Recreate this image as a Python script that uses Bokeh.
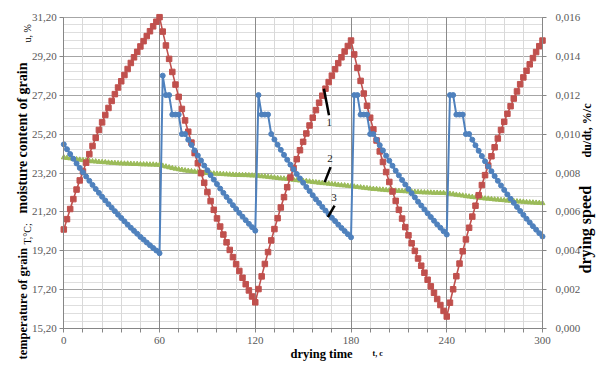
import math
from bokeh.plotting import figure
from bokeh.models import (Range1d, LinearAxis, FixedTicker, CustomJSTickFormatter,
                          Label, ColumnDataSource)
from bokeh.embed import file_html
from bokeh.resources import INLINE

# ---------------- data ----------------
time_s = list(range(0, 301, 2))

# curve 1: grain temperature T, degC (left axis)
temperature = [
    20.30, 20.83, 21.35, 21.86, 22.35, 22.82, 23.28, 23.73, 24.17, 24.59, 25.01,
    25.41, 25.80, 26.18, 26.54, 26.90, 27.25, 27.59, 27.91, 28.23, 28.54, 28.85,
    29.14, 29.42, 29.70, 29.97, 30.23, 30.48, 30.73, 30.97, 31.20,
    30.46, 29.75, 29.06, 28.39, 27.74, 27.11, 26.49, 25.90, 25.32, 24.76, 24.22,
    23.70, 23.19, 22.70, 22.22, 21.76, 21.31, 20.87, 20.45, 20.04, 19.64, 19.25,
    18.88, 18.52, 18.17, 17.82, 17.49, 17.17, 16.86, 16.56,
    17.24, 17.89, 18.53, 19.14, 19.74, 20.32, 20.88, 21.43, 21.96, 22.47, 22.97,
    23.45, 23.91, 24.37, 24.80, 25.23, 25.64, 26.04, 26.43, 26.81, 27.17, 27.53,
    27.87, 28.20, 28.53, 28.84, 29.14, 29.44, 29.72, 30.00,
    29.29, 28.60, 27.93, 27.28, 26.65, 26.04, 25.44, 24.87, 24.31, 23.77, 23.25,
    22.74, 22.25, 21.77, 21.31, 20.86, 20.42, 20.00, 19.59, 19.20, 18.81, 18.44,
    18.08, 17.72, 17.38, 17.05, 16.73, 16.42, 16.12, 15.83,
    16.54, 17.23, 17.90, 18.55, 19.18, 19.79, 20.39, 20.96, 21.52, 22.06, 22.58,
    23.09, 23.58, 24.06, 24.52, 24.97, 25.41, 25.83, 26.24, 26.63, 27.02, 27.39,
    27.76, 28.11, 28.45, 28.78, 29.10, 29.41, 29.71, 30.00,
]

# curve 2: moisture content of grain u, % (left axis)
moisture = [
    24.00, 23.97, 23.95, 23.92, 23.90, 23.88, 23.86, 23.84, 23.82, 23.80, 23.79,
    23.77, 23.76, 23.75, 23.73, 23.72, 23.71, 23.70, 23.69, 23.68, 23.68, 23.67,
    23.66, 23.66, 23.65, 23.64, 23.64, 23.63, 23.63, 23.62, 23.62,
    23.57, 23.53, 23.49, 23.45, 23.42, 23.39, 23.36, 23.33, 23.31, 23.29, 23.27,
    23.25, 23.23, 23.21, 23.20, 23.18, 23.17, 23.16, 23.15, 23.14, 23.13, 23.12,
    23.11, 23.10, 23.10, 23.09, 23.09, 23.08, 23.07, 23.07,
    23.05, 23.03, 23.02, 23.00, 22.98, 22.96, 22.94, 22.92, 22.91, 22.89, 22.87,
    22.85, 22.83, 22.81, 22.79, 22.78, 22.76, 22.74, 22.72, 22.70, 22.68, 22.67,
    22.65, 22.63, 22.61, 22.59, 22.57, 22.56, 22.54, 22.52,
    22.50, 22.48, 22.46, 22.44, 22.42, 22.40, 22.38, 22.37, 22.35, 22.34, 22.32,
    22.31, 22.30, 22.29, 22.28, 22.27, 22.26, 22.25, 22.24, 22.23, 22.22, 22.21,
    22.20, 22.20, 22.19, 22.18, 22.18, 22.17, 22.17, 22.16,
    22.13, 22.11, 22.08, 22.06, 22.04, 22.01, 21.99, 21.97, 21.95, 21.93, 21.91,
    21.89, 21.88, 21.86, 21.84, 21.83, 21.81, 21.80, 21.78, 21.77, 21.75, 21.74,
    21.73, 21.72, 21.70, 21.69, 21.68, 21.67, 21.66, 21.65,
]

# curve 3: drying speed du/dt, %/c (right axis)
drying_speed = [
    0.00947, 0.00922, 0.00897, 0.00873, 0.00849, 0.00826, 0.00804, 0.00782,
    0.00760, 0.00739, 0.00718, 0.00698, 0.00678, 0.00659, 0.00640, 0.00622,
    0.00604, 0.00586, 0.00569, 0.00552, 0.00535, 0.00519, 0.00503, 0.00488,
    0.00472, 0.00458, 0.00443, 0.00429, 0.00415, 0.00402, 0.00388,
    0.01300, 0.01200, 0.01200, 0.01100, 0.01100, 0.01100, 0.01000, 0.01000,
    0.00971, 0.00944, 0.00916, 0.00890, 0.00864, 0.00838, 0.00814, 0.00789,
    0.00766, 0.00743, 0.00720, 0.00698, 0.00677, 0.00656, 0.00635, 0.00615,
    0.00595, 0.00576, 0.00558, 0.00539, 0.00522, 0.00504,
    0.01200, 0.01100, 0.01100, 0.01100, 0.01000,
    0.00972, 0.00945, 0.00919, 0.00893, 0.00868, 0.00843, 0.00819, 0.00795,
    0.00772, 0.00750, 0.00728, 0.00707, 0.00686, 0.00665, 0.00646, 0.00626,
    0.00607, 0.00588, 0.00570, 0.00553, 0.00535, 0.00518, 0.00502, 0.00486,
    0.00470,
    0.01200, 0.01200, 0.01100, 0.01100, 0.01100, 0.01000, 0.01000,
    0.00971, 0.00943, 0.00916, 0.00889, 0.00863, 0.00837, 0.00812, 0.00788,
    0.00764, 0.00741, 0.00718, 0.00696, 0.00675, 0.00653, 0.00633, 0.00613,
    0.00593, 0.00574, 0.00555, 0.00536, 0.00519, 0.00501, 0.00484,
    0.01200, 0.01200, 0.01100, 0.01100, 0.01100, 0.01000, 0.01000,
    0.00971, 0.00942, 0.00914, 0.00887, 0.00860, 0.00834, 0.00809, 0.00784,
    0.00760, 0.00736, 0.00713, 0.00690, 0.00668, 0.00647, 0.00626, 0.00605,
    0.00585, 0.00565, 0.00546, 0.00527, 0.00509, 0.00491, 0.00474,
]

x_ticks = [0, 60, 120, 180, 240, 300]
left_ticks = [15.2, 17.2, 19.2, 21.2, 23.2, 25.2, 27.2, 29.2, 31.2]
right_ticks = [0.0, 0.002, 0.004, 0.006, 0.008, 0.010, 0.012, 0.014, 0.016]

assert len(time_s) == len(temperature) == len(moisture) == len(drying_speed)

src = ColumnDataSource(dict(t=time_s, T=temperature, u=moisture, v=drying_speed))

# ---------------- figure ----------------
# The frame covers the whole canvas; the axes are pinned (fixed_location) so that
# the titles, which live inside the frame, are not clipped.
W, H = 598, 367
PL, PR, PT, PB = 63.3, 542.0, 16.7, 328.3       # plot-area box in pixels
X0, X1 = 0.0, 300.0
Y0, Y1 = 15.2, 31.2
S0, S1 = 0.0, 0.016
kx = (X1 - X0) / (PR - PL)
ky = (Y1 - Y0) / (PB - PT)
ks = (S1 - S0) / (PB - PT)

p = figure(width=W, height=H,
           x_range=Range1d(X0 - PL * kx, X1 + (W - PR) * kx),
           y_range=Range1d(Y0 - (H - PB) * ky, Y1 + PT * ky),
           output_backend="svg", toolbar_location=None, min_border=0)
p.outline_line_color = None
p.background_fill_color = "white"
p.border_fill_color = "white"
p.extra_y_ranges = {"speed": Range1d(S0 - (H - PB) * ks, S1 + PT * ks)}

SERIF = "Liberation Serif"
TICK_COLOR = "#595959"
AXIS_COLOR = "#868686"

# minor grid/ticks every 12 s and every 0.4, skipping the major positions
x_minor = [12 * i for i in range(26) if i % 5 != 0]
y_minor = [15.2 + 0.4 * i for i in range(41) if i % 5 != 0]

xax = p.xaxis[0]
yax = p.yaxis[0]
xax.ticker = FixedTicker(ticks=x_ticks, minor_ticks=x_minor)
yax.ticker = FixedTicker(ticks=left_ticks, minor_ticks=y_minor)
yax.formatter = CustomJSTickFormatter(code="return tick.toFixed(2).replace('.', ',');")
xax.fixed_location = Y0
xax.bounds = (X0, X1)
yax.fixed_location = X0
yax.bounds = (Y0, Y1)

rax = LinearAxis(y_range_name="speed", ticker=FixedTicker(ticks=right_ticks),
                 formatter=CustomJSTickFormatter(code="return tick.toFixed(3).replace('.', ',');"),
                 fixed_location=X1, bounds=(S0, S1))
p.add_layout(rax, "right")

for ax in (xax, yax, rax):
    ax.axis_line_color = AXIS_COLOR
    ax.major_tick_line_color = AXIS_COLOR
    ax.minor_tick_line_color = AXIS_COLOR
    ax.major_tick_in = 0
    ax.major_tick_out = 4
    ax.minor_tick_in = 0
    ax.minor_tick_out = 0
    ax.major_label_text_font = SERIF
    ax.major_label_text_font_size = "11px"
    ax.major_label_text_color = TICK_COLOR
xax.minor_tick_out = 4
xax.major_label_standoff = 4
yax.major_label_standoff = 3
rax.major_label_standoff = 9

xg = p.xgrid[0]
yg = p.ygrid[0]
xg.grid_line_color = "#8a8a8a"
xg.minor_grid_line_color = "#d9d9d9"
yg.grid_line_color = "#a6a6a6"
yg.minor_grid_line_color = "#dedede"
xg.bounds = (X0, X1)
yg.bounds = (Y0, Y1)
xg.cross_bounds = (Y0, Y1)
yg.cross_bounds = (X0, X1)
# draw the horizontal grid first so the darker vertical lines stay on top
p.center = [yg, xg] + [r for r in p.center if r is not xg and r is not yg]

# ---------------- series ----------------
RED = "#C0504D"
GREEN = "#9BBB59"
BLUE = "#4F81BD"

p.line("t", "u", source=src, line_color=GREEN, line_width=2)
p.scatter("t", "u", source=src, marker="triangle", size=5, fill_color=GREEN, line_color=GREEN)

p.line("t", "T", source=src, line_color=RED, line_width=1.6)
p.scatter("t", "T", source=src, marker="square", size=5.5, fill_color=RED, line_color=RED)

p.line("t", "v", source=src, y_range_name="speed", line_color=BLUE, line_width=2)
p.scatter("t", "v", source=src, y_range_name="speed", marker="circle", size=5,
          fill_color=BLUE, line_color=BLUE)

# ---------------- curve numbers with leader lines ----------------
p.segment(x0=[163.0, 167.2, 169.7], y0=[27.53, 23.50, 21.53],
          x1=[166.2, 163.5, 165.5], y1=[26.16, 22.73, 20.93],
          line_color="black", line_width=2.5)
for txt, lx, ly in (("1", 166.4, 25.80), ("2", 166.8, 23.92), ("3", 169.4, 21.92)):
    p.add_layout(Label(x=lx, y=ly, text=txt, text_align="center", text_baseline="middle",
                       text_font=SERIF, text_font_size="11px", text_color="#222222"))

# ---------------- axis titles (mixed sizes) ----------------
def px_x(px):
    return X0 + (px - PL) * kx

def px_y(py):
    return Y1 - (py - PT) * ky

def add_label(px, py, text, size, bold=True, angle=0.0):
    p.add_layout(Label(x=px_x(px), y=px_y(py), text=text, angle=angle,
                       text_align="left", text_baseline="middle", text_font=SERIF,
                       text_font_style="bold" if bold else "normal",
                       text_font_size=size, text_color="black"))

up = math.pi / 2
add_label(22, 359, "temperature of grain", "12.5px", True, up)
add_label(27, 244, "T,°C;", "10px", False, up)
add_label(22, 213, "moisture content of grain", "14px", True, up)
add_label(27, 42, "u, %", "10px", False, up)

add_label(585, 273, "drying speed", "16px", True, up)
add_label(586, 157, "du/dt, %/c", "12px", True, up)

add_label(290, 353, "drying time", "12.5px", True)
add_label(372, 353, "t, c", "8px", True)

open("out.html", "w").write(file_html(p, INLINE))
